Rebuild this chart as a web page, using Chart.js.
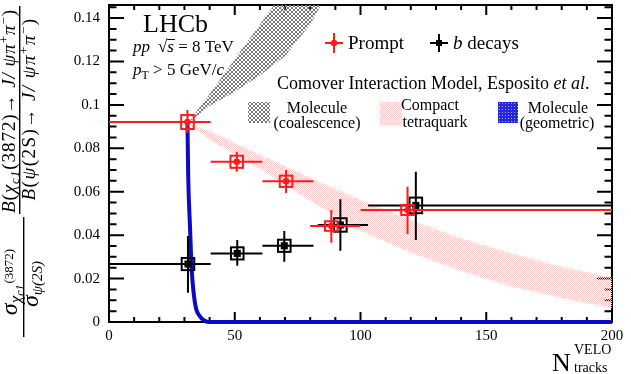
<!DOCTYPE html>
<html>
<head>
<meta charset="utf-8">
<script src="https://cdn.jsdelivr.net/npm/chart.js@4.4.1/dist/chart.umd.min.js"></script>
<style>
  html, body { margin: 0; padding: 0; background: #fff; }
</style>
</head>
<body>
<canvas id="chart" width="631" height="374"></canvas>
<script>
// Prompt (red)
const promptX = [31.2, 50.8, 70.4, 88.4, 118.7];
const promptXLow = [0, 40.4, 61.0, 80.0, 100.0];
const promptXHigh = [40.4, 61.0, 81.3, 100.0, 200.0];
const promptY = [0.0921, 0.0738, 0.0648, 0.0442, 0.0516];
const promptYLow = [0.0870, 0.0692, 0.0594, 0.0365, 0.0405];
const promptYHigh = [0.0976, 0.0784, 0.0700, 0.0516, 0.0623];
const promptSyst = [0.0032, 0.0028, 0.0026, 0.0022, 0.0023];

// b decays (black)
const bX = [31.4, 51.0, 69.7, 92.0, 122.0];
const bXLow = [0, 40.4, 61.0, 83.0, 103.0];
const bXHigh = [40.4, 61.0, 81.3, 103.0, 200.0];
const bY = [0.0267, 0.0316, 0.0351, 0.0447, 0.0537];
const bYLow = [0.0135, 0.0259, 0.0278, 0.0328, 0.0378];
const bYHigh = [0.0396, 0.0378, 0.0419, 0.0565, 0.0692];
const bSyst = [0.0028, 0.0028, 0.0028, 0.0031, 0.0036];
const systHalfWidth = 2.5;

// Comover interaction model bands
const coalX = [31.3, 40, 50, 60, 70, 80, 90];
const coalUpper = [0.0915, 0.105, 0.121, 0.137, 0.153, 0.169, 0.185];
const coalLower = [0.0915, 0.0995, 0.106, 0.1135, 0.1225, 0.137, 0.158];
const tetraX = [31.3, 40, 60, 80, 100, 120, 140, 160, 180, 200];
const tetraUpper = [0.0915, 0.088, 0.077, 0.0665, 0.0562, 0.047, 0.0385, 0.0315, 0.0255, 0.0204];
const tetraLower = [0.0915, 0.084, 0.0705, 0.056, 0.042, 0.032, 0.0235, 0.0165, 0.011, 0.0064];
const geoX = [31.2, 31.5, 32.2, 32.9, 34.2, 36.2, 38.0, 40.0, 200];
const geoY = [0.0915, 0.067, 0.044, 0.024, 0.0086, 0.0025, 0.0006, 0, 0];

// Axes
const xTickValues = [0, 50, 100, 150, 200];
const yTickValues = [0, 0.02, 0.04, 0.06, 0.08, 0.1, 0.12, 0.14];
const yTickLabels = ['0', '0.02', '0.04', '0.06', '0.08', '0.1', '0.12', '0.14'];

const serif = '"Liberation Serif", "Times New Roman", serif';
const RED = '#ff1a1a';
const BLUE = '#0a0ac8';

const toPoints = (xs, ys) => xs.map((x, i) => ({ x, y: ys[i] }));

// fill patterns
const makePattern = (size, draw) => {
    const c = document.createElement('canvas');
    c.width = size;
    c.height = size;
    draw(c.getContext('2d'));
    return c.getContext('2d').createPattern(c, 'repeat');
};
const grayHatch = makePattern(4, g => {
    g.fillStyle = '#777';
    for (let i = 0; i < 4; i++) {
        g.fillRect(i, i, 1, 1);
        g.fillRect(3 - i, i, 1, 1);
    }
});
const pinkHatch = makePattern(2, g => {
    g.fillStyle = '#ffcaca';
    g.fillRect(0, 0, 1, 1);
    g.fillRect(1, 1, 1, 1);
});
const blueHatch = makePattern(3, g => {
    g.fillStyle = '#2626e0';
    g.fillRect(0, 0, 3, 3);
    g.fillStyle = '#a8a8ff';
    g.fillRect(1, 1, 1, 1);
});

// rich text helpers (ls = extra spacing per character)
const fontOf = p => `${p.i ? 'italic ' : ''}${p.s}px ${serif}`;
const richWidth = (ctx, parts, ls = 0) => parts.reduce((w, p) => {
    ctx.font = fontOf(p);
    return w + ctx.measureText(p.t).width + ls * p.t.length + (p.gap || 0);
}, 0);
const charCount = parts => parts.reduce((n, p) => n + p.t.length, 0);
const drawRich = (ctx, x, y, parts, align = 'left', ls = 0) => {
    let cx = align === 'center' ? x - richWidth(ctx, parts, ls) / 2 : x;
    parts.forEach(p => {
        ctx.font = fontOf(p);
        if (ls === 0) {
            ctx.fillText(p.t, cx, y + (p.dy || 0));
            cx += ctx.measureText(p.t).width;
        } else {
            for (const ch of p.t) {
                ctx.fillText(ch, cx, y + (p.dy || 0));
                cx += ctx.measureText(ch).width + ls;
            }
        }
        cx += p.gap || 0;
    });
    return cx;
};
// spread a formula over a given length
const drawSpread = (ctx, center, y, parts, target) => {
    const ls = Math.max(0, (target - richWidth(ctx, parts)) / charCount(parts));
    drawRich(ctx, center, y, parts, 'center', ls);
};

// error bars + systematic boxes
const drawErrors = (chart, xs, xl, xh, ys, yl, yh, syst, color) => {
    const { ctx, scales: { x, y } } = chart;
    ctx.save();
    ctx.strokeStyle = color;
    ctx.lineWidth = 2;
    xs.forEach((v, i) => {
        const left = x.getPixelForValue(v - systHalfWidth);
        const right = x.getPixelForValue(v + systHalfWidth);
        const top = y.getPixelForValue(ys[i] + syst[i]);
        const bottom = y.getPixelForValue(ys[i] - syst[i]);
        ctx.strokeRect(left, top, right - left, bottom - top);
        const px = x.getPixelForValue(v);
        const py = y.getPixelForValue(ys[i]);
        ctx.beginPath();
        ctx.moveTo(x.getPixelForValue(xl[i]), py);
        ctx.lineTo(x.getPixelForValue(xh[i]), py);
        ctx.moveTo(px, y.getPixelForValue(yl[i]));
        ctx.lineTo(px, y.getPixelForValue(yh[i]));
        ctx.stroke();
    });
    ctx.restore();
};

const errorBarPlugin = {
    id: 'errorBars',
    beforeDatasetDraw(chart, args) {
        if (args.index === 5) drawErrors(chart, bX, bXLow, bXHigh, bY, bYLow, bYHigh, bSyst, '#000');
        if (args.index === 6) drawErrors(chart, promptX, promptXLow, promptXHigh, promptY, promptYLow, promptYHigh, promptSyst, RED);
    }
};

// ROOT style frame with inward ticks
const framePlugin = {
    id: 'frame',
    beforeDatasetsDraw(chart) {
        const { ctx, chartArea: a, scales: { x, y } } = chart;
        ctx.save();
        ctx.strokeStyle = '#000';
        ctx.lineWidth = 2;
        ctx.beginPath();
        for (let v = 0; v <= 200; v += 10) {
            const px = x.getPixelForValue(v);
            const len = v % 50 === 0 ? 10 : 5;
            ctx.moveTo(px, a.bottom); ctx.lineTo(px, a.bottom - len);
            ctx.moveTo(px, a.top); ctx.lineTo(px, a.top + len);
        }
        for (let k = 0; k <= 29; k++) {
            const py = y.getPixelForValue(k * 0.005);
            const len = k % 4 === 0 ? 15 : 7.5;
            ctx.moveTo(a.left, py); ctx.lineTo(a.left + len, py);
            ctx.moveTo(a.right, py); ctx.lineTo(a.right - len, py);
        }
        ctx.stroke();
        ctx.strokeRect(a.left, a.top, a.right - a.left, a.bottom - a.top);
        ctx.restore();
    }
};

// labels, legend and axis titles
const textPlugin = {
    id: 'texts',
    afterDraw(chart) {
        const { ctx } = chart;
        ctx.save();
        ctx.fillStyle = '#000';
        ctx.textBaseline = 'alphabetic';
        ctx.textAlign = 'left';

        drawRich(ctx, 143, 32, [{ t: 'LHCb', s: 26 }]);
        let cx = drawRich(ctx, 133, 52, [{ t: 'pp', s: 17, i: true, gap: 8 }, { t: '\u221A', s: 17 }]);
        const sx = cx;
        cx = drawRich(ctx, cx, 52, [{ t: 's', s: 17, i: true }]);
        ctx.fillRect(sx, 39, cx - sx + 1, 1);
        drawRich(ctx, cx, 52, [{ t: ' = 8 TeV', s: 17 }]);
        drawRich(ctx, 133, 75, [{ t: 'p', s: 17, i: true }, { t: 'T', s: 12, dy: 4 }, { t: ' > 5 GeV/', s: 17 }, { t: 'c', s: 17, i: true }]);

        // Prompt / b decays legend
        ctx.lineWidth = 2;
        ctx.strokeStyle = RED;
        ctx.beginPath();
        ctx.moveTo(325, 43); ctx.lineTo(343, 43);
        ctx.moveTo(334, 33); ctx.lineTo(334, 53);
        ctx.stroke();
        ctx.fillStyle = RED;
        ctx.beginPath(); ctx.arc(334, 43, 3.2, 0, Math.PI * 2); ctx.fill();
        ctx.fillStyle = '#000';
        drawRich(ctx, 348, 49, [{ t: 'Prompt', s: 19 }]);
        ctx.strokeStyle = '#000';
        ctx.beginPath();
        ctx.moveTo(430, 43); ctx.lineTo(448, 43);
        ctx.moveTo(439, 34); ctx.lineTo(439, 52);
        ctx.stroke();
        ctx.fillRect(436, 40, 6, 6);
        drawRich(ctx, 453, 49, [{ t: 'b', s: 19, i: true }, { t: ' decays', s: 19 }]);

        drawRich(ctx, 277, 89, [{ t: 'Comover Interaction Model, Esposito ', s: 18 }, { t: 'et al', s: 18, i: true }, { t: '.', s: 18 }]);

        // model legend
        ctx.fillStyle = grayHatch; ctx.fillRect(248, 102, 22, 21);
        ctx.fillStyle = pinkHatch; ctx.fillRect(380, 102, 22, 23);
        ctx.fillStyle = blueHatch; ctx.fillRect(498, 102, 20, 21);
        ctx.fillStyle = '#000';
        drawRich(ctx, 317, 113, [{ t: 'Molecule', s: 16 }], 'center');
        drawRich(ctx, 317, 128, [{ t: '(coalescence)', s: 16 }], 'center');
        drawRich(ctx, 430, 110, [{ t: 'Compact', s: 16 }], 'center');
        drawRich(ctx, 435, 127, [{ t: 'tetraquark', s: 16 }], 'center');
        drawRich(ctx, 558, 113, [{ t: 'Molecule', s: 16 }], 'center');
        drawRich(ctx, 557, 128, [{ t: '(geometric)', s: 16 }], 'center');

        // x title
        drawRich(ctx, 552, 371, [{ t: 'N', s: 26 }]);
        drawRich(ctx, 574, 354, [{ t: 'VELO', s: 14 }]);
        drawRich(ctx, 574, 372, [{ t: 'tracks', s: 14 }]);

        // y title (rotated)
        ctx.translate(0, 374);
        ctx.rotate(-Math.PI / 2);
        const num = [
            { t: 'B', s: 19, i: true }, { t: '(', s: 19 }, { t: '\u03C7', s: 19, i: true },
            { t: 'c1', s: 13, i: true, dy: 4 }, { t: '(3872)', s: 19 }, { t: '\u2192 ', s: 19 },
            { t: 'J/ ', s: 19, i: true }, { t: '\u03C8', s: 19, i: true }, { t: '\u03C0', s: 19, i: true },
            { t: '+', s: 13, dy: -7 }, { t: '\u03C0', s: 19, i: true }, { t: '\u2212', s: 13, dy: -7 }, { t: ')', s: 19 }
        ];
        const den = [
            { t: 'B', s: 19, i: true }, { t: '(', s: 19 }, { t: '\u03C8', s: 19, i: true },
            { t: '(2S)', s: 19 }, { t: '\u2192 ', s: 19 },
            { t: 'J/ ', s: 19, i: true }, { t: '\u03C8', s: 19, i: true }, { t: '\u03C0', s: 19, i: true },
            { t: '+', s: 13, dy: -7 }, { t: '\u03C0', s: 19, i: true }, { t: '\u2212', s: 13, dy: -7 }, { t: ')', s: 19 }
        ];
        drawSpread(ctx, 263, 15, num, 204);
        ctx.fillRect(160, 19, 208, 1.4);
        drawSpread(ctx, 265, 35, den, 183);
        drawRich(ctx, 92, 17, [
            { t: '\u03C3', s: 24, i: true }, { t: '\u03C7', s: 17, i: true, dy: 4 },
            { t: 'c1', s: 12, i: true, dy: 7, gap: 1 }, { t: '(3872)', s: 13, dy: -4 }
        ], 'center');
        ctx.fillRect(37, 23, 120, 1.4);
        drawRich(ctx, 90, 38, [{ t: '\u03C3', s: 24, i: true }, { t: '\u03C8(2S)', s: 15, i: true, dy: 4 }], 'center');
        ctx.restore();
    }
};

const ctx = document.getElementById('chart').getContext('2d');
new Chart(ctx, {
    type: 'line',
    data: {
        datasets: [
            { label: 'tetra low', data: toPoints(tetraX, tetraLower), borderWidth: 0, pointRadius: 0, fill: false, order: 10 },
            { label: 'Compact tetraquark', data: toPoints(tetraX, tetraUpper), borderWidth: 0, pointRadius: 0, fill: '-1', backgroundColor: pinkHatch, order: 9 },
            { label: 'coal low', data: toPoints(coalX, coalLower), borderWidth: 0, pointRadius: 0, fill: false, order: 8 },
            { label: 'Molecule (coalescence)', data: toPoints(coalX, coalUpper), borderWidth: 0, pointRadius: 0, fill: '-1', backgroundColor: grayHatch, order: 7 },
            { label: 'Molecule (geometric)', data: toPoints(geoX, geoY), borderColor: BLUE, borderWidth: 4, pointRadius: 0, fill: false,
              cubicInterpolationMode: 'monotone', clip: 4, order: 2 },
            { label: 'b decays', data: toPoints(bX, bY), showLine: false, pointStyle: 'rect', pointRadius: 5,
              backgroundColor: '#000', borderColor: '#000', borderWidth: 0, order: 1 },
            { label: 'Prompt', data: toPoints(promptX, promptY), showLine: false, pointStyle: 'circle', pointRadius: 3.3,
              backgroundColor: RED, borderColor: RED, borderWidth: 0, order: 0 }
        ]
    },
    options: {
        responsive: false,
        animation: false,
        layout: { padding: { left: 0, right: 19, top: 5, bottom: 0 } },
        plugins: { legend: { display: false }, tooltip: { enabled: false } },
        scales: {
            x: {
                type: 'linear', min: 0, max: 200,
                grid: { display: false, drawTicks: false },
                border: { display: false },
                afterBuildTicks: s => { s.ticks = xTickValues.map(v => ({ value: v })); },
                afterFit: s => { s.height = 52; s.paddingLeft = 0; s.paddingRight = 0; },
                ticks: { font: { family: serif, size: 15 }, color: '#000', padding: 5, maxRotation: 0, autoSkip: false,
                         callback: (v, i) => String(xTickValues[i]) }
            },
            y: {
                type: 'linear', min: 0, max: 0.146,
                grid: { display: false, drawTicks: false },
                border: { display: false },
                afterBuildTicks: s => { s.ticks = yTickValues.map(v => ({ value: v })); },
                afterFit: s => { s.width = 109; s.paddingTop = 0; s.paddingBottom = 0; },
                ticks: { font: { family: serif, size: 15 }, color: '#000', padding: 9, autoSkip: false,
                         callback: (v, i) => yTickLabels[i] }
            }
        }
    },
    plugins: [framePlugin, errorBarPlugin, textPlugin]
});
</script>
</body>
</html>
